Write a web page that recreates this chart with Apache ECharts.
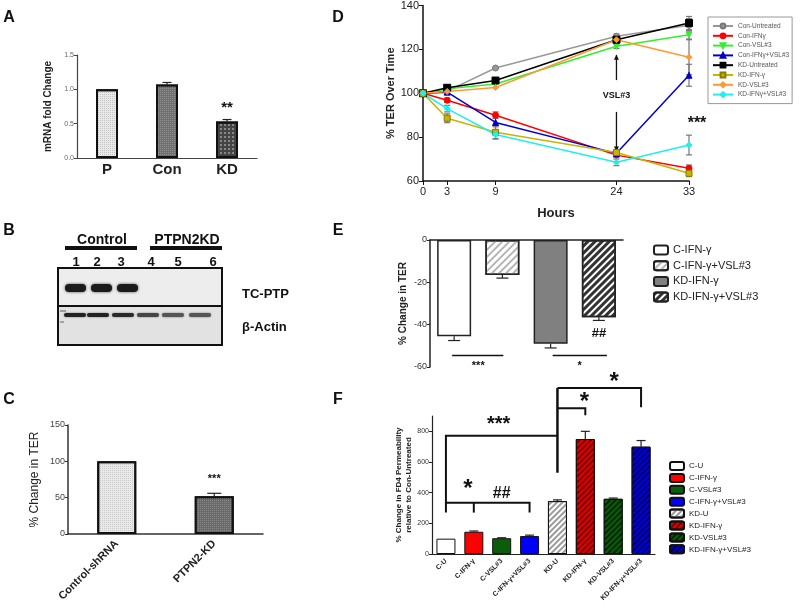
<!DOCTYPE html>
<html><head><meta charset="utf-8">
<script src="https://cdn.jsdelivr.net/npm/echarts@6/dist/echarts.min.js"></script>
<style>html,body{margin:0;padding:0;background:#fff}#c{width:800px;height:606px}</style>
</head><body><div id="c"></div>
<script>
// ---------- DATA ----------
// Panel A
const aCats = ['P', 'Con', 'KD'];
const aVals = [1.0, 1.07, 0.53];
const aErr = [0, 0.03, 0.03];
// Panel C
const cCats = ['Control-shRNA', 'PTPN2-KD'];
const cVals = [100, 52];
const cErr = [0, 4];
// Panel D
const dHours = [0, 3, 9, 24, 33];
const dNames = ['Con-Untreated', 'Con-IFNγ', 'Con-VSL#3', 'Con-IFNγ+VSL#3', 'KD-Untreated', 'KD-IFN-γ', 'KD-VSL#3', 'KD-IFNγ+VSL#3'];
const dConUnt = [100, 101, 111.5, 126, 131];
const dConIFN = [100, 96.8, 90, 71.8, 65.8];
const dConVSL = [100, 102, 104.2, 121.4, 126.7];
const dConIFNVSL = [100, 100.5, 86.7, 72.6, 108.2];
const dKDUnt = [100, 102.5, 105.8, 124.4, 132];
const dKDIFN = [100, 88.6, 82.2, 73, 63.5];
const dKDVSL = [100, 100.8, 102.6, 124.4, 116.4];
const dKDIFNVSL = [100, 93, 81.2, 68.5, 76.4];
const dErrConUnt = [0, 0, 0, 1, 3];
const dErrConIFN = [0, 1, 1.5, 1, 1.5];
const dErrConVSL = [0, 0, 0, 1, 2];
const dErrConIFNVSL = [0, 1, 2, 1, 5];
const dErrKDUnt = [0, 1, 1, 1.5, 3];
const dErrKDIFN = [0, 2, 3, 1, 1.5];
const dErrKDVSL = [0, 0, 0, 1, 8];
const dErrKDIFNVSL = [0, 1.5, 2, 1.5, 4.5];
// Panel E
const eNames = ['C-IFN-γ', 'C-IFN-γ+VSL#3', 'KD-IFN-γ', 'KD-IFN-γ+VSL#3'];
const eVals = [-45.5, -16.5, -49, -36.5];
const eErr = [2, 1.5, 2, 1.5];
// Panel F
const fNames = ['C-U', 'C-IFN-γ', 'C-VSL#3', 'C-IFN-γ+VSL#3', 'KD-U', 'KD-IFN-γ', 'KD-VSL#3', 'KD-IFN-γ+VSL#3'];
const fVals = [100, 145, 103, 117, 345, 750, 360, 700];
const fErr = [0, 5, 3, 6, 8, 50, 5, 40];
// tick labels
const aTicks = [0, 0.5, 1.0, 1.5];
const dTicks = [0, 3, 9, 24, 33];
const fTicks = [0, 200, 400, 600, 800];

// ---------- STYLES ----------
const FONT = 'Liberation Sans, Arial, sans-serif';
const hatch = (c, a, b) => ({symbol: 'rect', symbolSize: 1, dashArrayX: [1, 0], dashArrayY: [a, b], rotation: -Math.PI / 4, color: c});
const dots = (c) => ({symbol: 'rect', symbolSize: 1, dashArrayX: [1, 1], dashArrayY: [1, 1], color: c});

const aStyles = [
  {color: '#e9e9e9', decal: dots('rgba(190,190,190,0.9)')},
  {color: '#6f6f6f', decal: dots('rgba(150,150,150,0.9)')},
  {color: '#444', decal: {symbol: 'rect', symbolSize: 1, dashArrayX: [2, 2], dashArrayY: [2, 2], color: '#888'}}
];
const cStyles = [
  {color: '#e9e9e9', decal: dots('rgba(200,200,200,0.9)')},
  {color: '#6a6a6a', decal: dots('rgba(140,140,140,0.9)')}
];
const eStyles = [
  {color: '#fff'},
  {color: '#fff', decal: hatch('#b5b5b5', 2, 3)},
  {color: '#808080'},
  {color: '#fff', decal: hatch('#333', 2.5, 2)}
];
const fStyles = [
  {color: '#fff'},
  {color: '#ff0000'},
  {color: '#0b5d0b'},
  {color: '#0000ff'},
  {color: '#fff', decal: hatch('#9a9a9a', 2, 2)},
  {color: '#e00000', decal: hatch('#7a0000', 2, 2)},
  {color: '#0b5d0b', decal: hatch('#002800', 2, 2)},
  {color: '#0000e8', decal: hatch('#000060', 2, 2)}
];
const dColors = ['#999999', '#ff0000', '#33ee33', '#0000cc', '#000000', '#c8b400', '#ff9933', '#22eeee'];
const dSymbols = ['circle', 'circle', 'triangle', 'triangle', 'rect', 'rect', 'diamond', 'diamond'];
const dRot = [0, 0, 180, 0, 0, 0, 0, 0];
const dSeries = [dConUnt, dConIFN, dConVSL, dConIFNVSL, dKDUnt, dKDIFN, dKDVSL, dKDIFNVSL];
const dErrs = [dErrConUnt, dErrConIFN, dErrConVSL, dErrConIFNVSL, dErrKDUnt, dErrKDIFN, dErrKDVSL, dErrKDIFNVSL];

function errSeries(idx, data, cap, color, mode, z) {
  return {
    type: 'custom', xAxisIndex: idx, yAxisIndex: idx, z: z || 1, silent: true,
    data: data,
    renderItem: function (params, api) {
      const x = api.value(0), y = api.value(1), e = api.value(2);
      if (!e) return null;
      let lo = y - e, hi = y + e;
      if (mode === 'out') { if (y >= 0) lo = y; else hi = y; }
      const p1 = api.coord([x, hi]), p0 = api.coord([x, lo]);
      const st = {stroke: color, lineWidth: 1.2};
      const ch = [{type: 'line', shape: {x1: p0[0], y1: p0[1], x2: p1[0], y2: p1[1]}, style: st}];
      if (mode === 'out') {
        const pe = y >= 0 ? p1 : p0;
        ch.push({type: 'line', shape: {x1: pe[0] - cap / 2, y1: pe[1], x2: pe[0] + cap / 2, y2: pe[1]}, style: st});
      } else {
        ch.push({type: 'line', shape: {x1: p1[0] - cap / 2, y1: p1[1], x2: p1[0] + cap / 2, y2: p1[1]}, style: st});
        ch.push({type: 'line', shape: {x1: p0[0] - cap / 2, y1: p0[1], x2: p0[0] + cap / 2, y2: p0[1]}, style: st});
      }
      return {type: 'group', children: ch};
    }
  };
}

const axisLine = (w, c) => ({show: true, onZero: false, lineStyle: {color: c || '#222', width: w || 1.5}});
// unique internal series names per panel (prefix stripped in legends)
const dKey = n => 'D:' + n, eKey = n => 'E:' + n, fKey = n => 'F:' + n;
const strip = n => n.slice(2);

const series = [];
// A
series.push(errSeries(0, aVals.map((v, i) => [i, v, aErr[i]]), 9, '#222', 'out', 1));
series.push({type: 'bar', xAxisIndex: 0, yAxisIndex: 0, barWidth: 22, z: 2,
  data: aVals.map((v, i) => ({value: v, itemStyle: Object.assign({borderColor: '#111', borderWidth: 2}, aStyles[i])}))});
// C
series.push(errSeries(1, cVals.map((v, i) => [i, v, cErr[i]]), 14, '#222', 'out', 1));
series.push({type: 'bar', xAxisIndex: 1, yAxisIndex: 1, barWidth: 39, z: 2,
  data: cVals.map((v, i) => ({value: v, itemStyle: Object.assign({borderColor: '#111', borderWidth: 2}, cStyles[i])}))});
// D
const dErrData = [];
dSeries.forEach((arr, s) => {
  arr.forEach((v, i) => { if (dErrs[s][i]) dErrData.push([dHours[i], v, dErrs[s][i]]); });
});
series.push(errSeries(2, dErrData, 6, '#777', 'both', 1));
dSeries.forEach((arr, s) => {
  series.push({type: 'line', name: dKey(dNames[s]), xAxisIndex: 2, yAxisIndex: 2, z: 3,
    data: arr.map((v, i) => [dHours[i], v]),
    symbol: dSymbols[s], symbolRotate: dRot[s], symbolSize: s === 4 ? 7 : 6,
    lineStyle: {color: dColors[s], width: 1.5},
    itemStyle: {color: dColors[s], borderColor: s === 5 ? '#8a7a00' : (s === 0 ? '#777' : dColors[s]), borderWidth: 1},
    emphasis: {disabled: true}
  });
});
// E
series.push(errSeries(3, eVals.map((v, i) => [i, v, eErr[i]]), 12, '#222', 'out', 1));
eNames.forEach((n, s) => {
  series.push({type: 'bar', name: eKey(n), stack: 'e', xAxisIndex: 3, yAxisIndex: 3, barWidth: 34, z: 2,
    data: eVals.map((v, i) => i === s ? v : '-'),
    itemStyle: Object.assign({borderColor: '#222', borderWidth: 1.5}, eStyles[s])});
});
// F
series.push(errSeries(4, fVals.map((v, i) => [i, v, fErr[i]]), 9, '#222', 'out', 1));
fNames.forEach((n, s) => {
  series.push({type: 'bar', name: fKey(n), stack: 'f', xAxisIndex: 4, yAxisIndex: 4, barWidth: 19, z: 2,
    data: fVals.map((v, i) => i === s ? v : '-'),
    itemStyle: Object.assign({borderColor: '#111', borderWidth: 1}, fStyles[s])});
});

const option = {
  animation: false,
  textStyle: {fontFamily: FONT},
  grid: [
    {left: 77, top: 55, width: 180, height: 103},
    {left: 68, top: 425, width: 195, height: 109},
    {left: 423, top: 5, width: 266, height: 176},
    {left: 430, top: 240, width: 193, height: 127},
    {left: 432, top: 416, width: 223, height: 138}
  ],
  xAxis: [
    {type: 'category', gridIndex: 0, data: aCats, axisLine: axisLine(1.2, '#444'), axisTick: {show: false},
      axisLabel: {fontSize: 15, fontWeight: 'bold', color: '#222', margin: 4}},
    {type: 'category', gridIndex: 1, data: cCats, axisLine: axisLine(1.5, '#333'), axisTick: {show: false},
      axisLabel: {fontSize: 11, fontWeight: 'bold', color: '#222', rotate: 45, margin: 8, interval: 0}},
    {type: 'value', gridIndex: 2, min: 0, max: 33, axisLine: axisLine(1.5, '#111'), splitLine: {show: false},
      axisTick: {show: true, length: 4, customValues: dTicks, lineStyle: {color: '#111'}},
      axisLabel: {fontSize: 11, color: '#222', customValues: dTicks, margin: 5},
      name: 'Hours', nameLocation: 'middle', nameGap: 26, nameTextStyle: {fontSize: 13, fontWeight: 'bold', color: '#222'}},
    {type: 'category', gridIndex: 3, data: eNames, axisLine: {show: true, onZero: true, lineStyle: {color: '#222', width: 1.5}},
      axisTick: {show: false}, axisLabel: {show: false}},
    {type: 'category', gridIndex: 4, data: fNames, axisLine: axisLine(1.2, '#222'), axisTick: {show: false},
      axisLabel: {fontSize: 7, fontWeight: 'bold', color: '#222', rotate: 45, margin: 6, interval: 0}}
  ],
  yAxis: [
    {type: 'value', gridIndex: 0, min: 0, max: 1.5, interval: 0.5, splitLine: {show: false}, axisLine: axisLine(1.2, '#444'),
      axisTick: {show: true, length: 3}, axisLabel: {fontSize: 7, color: '#666', margin: 3, formatter: v => v.toFixed(1)},
      name: 'mRNA fold Change', nameLocation: 'middle', nameGap: 24, nameTextStyle: {fontSize: 10, fontWeight: 'bold', color: '#222'}},
    {type: 'value', gridIndex: 1, min: 0, max: 150, interval: 50, splitLine: {show: false}, axisLine: axisLine(1.5, '#333'),
      axisTick: {show: true, length: 3}, axisLabel: {fontSize: 9, color: '#444', margin: 3},
      name: '% Change in TER', nameLocation: 'middle', nameGap: 27, nameTextStyle: {fontSize: 12, color: '#222'}},
    {type: 'value', gridIndex: 2, min: 60, max: 140, interval: 20, splitLine: {show: false}, axisLine: axisLine(1.5, '#111'),
      axisTick: {show: true, length: 4}, axisLabel: {fontSize: 11, color: '#222', margin: 4},
      name: '% TER Over Time', nameLocation: 'middle', nameGap: 27, nameTextStyle: {fontSize: 11, fontWeight: 'bold', color: '#222'}},
    {type: 'value', gridIndex: 3, min: -60, max: 0, interval: 20, splitLine: {show: false}, axisLine: axisLine(1.5, '#222'),
      axisTick: {show: true, length: 3}, axisLabel: {fontSize: 9, color: '#333', margin: 3},
      name: '% Change in TER', nameLocation: 'middle', nameGap: 22, nameTextStyle: {fontSize: 10, fontWeight: 'bold', color: '#222'}},
    {type: 'value', gridIndex: 4, min: 0, max: 900, splitLine: {show: false}, axisLine: axisLine(1.2, '#222'),
      axisTick: {show: true, length: 3, customValues: fTicks}, axisLabel: {fontSize: 7, color: '#333', margin: 3, customValues: fTicks},
      name: '% Change in FD4 Permeability\nrelative to Con-Untreated', nameLocation: 'middle', nameGap: 17,
      nameTextStyle: {fontSize: 8, fontWeight: 'bold', color: '#222', lineHeight: 10}}
  ],
  legend: [
    {data: dNames.map(dKey), formatter: strip, orient: 'vertical', left: 708, top: 17, padding: [5, 3, 5, 4], itemGap: 1.8,
      itemWidth: 20, itemHeight: 6, borderColor: '#999', borderWidth: 1, selectedMode: false,
      textStyle: {fontSize: 6.5, color: '#555', lineHeight: 8}},
    {data: eNames.map(eKey), formatter: strip, orient: 'vertical', left: 648, top: 239, itemGap: 3.7, itemWidth: 14, itemHeight: 9, selectedMode: false,
      textStyle: {fontSize: 11, color: '#222', lineHeight: 12}},
    {data: fNames.map(fKey), formatter: strip, orient: 'vertical', left: 664, top: 456, itemGap: 1.9, itemWidth: 14, itemHeight: 8, selectedMode: false,
      textStyle: {fontSize: 8, color: '#222', lineHeight: 9.8}}
  ],
  series: series
};

const chart = echarts.init(document.getElementById('c'));
chart.setOption(option);

// ---------- ANNOTATIONS ----------
function px(g, x, y) { return chart.convertToPixel({xAxisIndex: g, yAxisIndex: g}, [x, y]); }
const G = [];
const T = (x, y, text, size, weight, extra) => G.push({type: 'text', x: x, y: y, style: Object.assign({text: text, fontSize: size, fontWeight: weight || 'bold', fontFamily: FONT, fill: '#111', align: 'center', verticalAlign: 'middle'}, extra || {})});
const L = (x1, y1, x2, y2, w, c) => G.push({type: 'line', shape: {x1: x1, y1: y1, x2: x2, y2: y2}, style: {stroke: c || '#111', lineWidth: w || 1.5}});
const poly = (pts, w) => G.push({type: 'polyline', shape: {points: pts}, style: {stroke: '#111', lineWidth: w || 2, fill: null}});

// panel letters
T(9, 18, 'A', 16); T(9, 231, 'B', 16); T(9, 400, 'C', 16);
T(338, 18, 'D', 16); T(338, 231, 'E', 16); T(338, 400, 'F', 16);

// Panel A stars
let p = px(0, 2, aVals[2] + aErr[2]);
T(p[0], p[1] - 12, '**', 15);
// Panel C stars
p = px(1, 1, cVals[1] + cErr[1]);
T(p[0], p[1] - 14, '***', 11);

// Panel B (western blot)
T(102, 240, 'Control', 14); T(187, 240, 'PTPN2KD', 14);
G.push({type: 'rect', shape: {x: 65, y: 246, width: 72, height: 4}, style: {fill: '#111'}});
G.push({type: 'rect', shape: {x: 150, y: 246, width: 72, height: 4}, style: {fill: '#111'}});
const laneNum = [76, 97, 121, 151, 178, 213];
laneNum.forEach((x, i) => T(x, 262, String(i + 1), 13));
G.push({type: 'rect', shape: {x: 58, y: 268, width: 164, height: 38}, style: {fill: '#ededed', stroke: '#111', lineWidth: 2}});
G.push({type: 'rect', shape: {x: 58, y: 306, width: 164, height: 39}, style: {fill: '#e2e2e2', stroke: '#111', lineWidth: 2}});
[75, 101, 127].forEach(x => G.push({type: 'rect', shape: {x: x - 10, y: 284, width: 21, height: 8, r: 4},
  style: {fill: '#1a1a1a', shadowBlur: 3, shadowColor: 'rgba(0,0,0,0.7)'}}));
const actin = [[75, '#222'], [98, '#222'], [123, '#2a2a2a'], [148, '#444'], [173, '#555'], [200, '#555']];
actin.forEach(a => G.push({type: 'rect', shape: {x: a[0] - 11, y: 313, width: 22, height: 4, r: 2},
  style: {fill: a[1], shadowBlur: 2, shadowColor: 'rgba(0,0,0,0.5)'}}));
L(60, 311, 66, 311, 1, '#555'); L(60, 322, 64, 322, 1, '#666');
T(242, 294, 'TC-PTP', 13, 'bold', {align: 'left'});
T(242, 327, 'β-Actin', 13, 'bold', {align: 'left'});

// Panel D annotations
let a1 = px(2, 24, 106), a2 = px(2, 24, 117.5);
L(a1[0], a1[1], a2[0], a2[1], 1.3);
G.push({type: 'polygon', shape: {points: [[a2[0] - 2.5, a2[1] + 5], [a2[0] + 2.5, a2[1] + 5], [a2[0], a2[1]]]}, style: {fill: '#111'}});
let b1 = px(2, 24, 91.5), b2 = px(2, 24, 73.5);
L(b1[0], b1[1], b2[0], b2[1] - 3, 1.3);
G.push({type: 'polygon', shape: {points: [[b2[0] - 2.5, b2[1] - 5], [b2[0] + 2.5, b2[1] - 5], [b2[0], b2[1]]]}, style: {fill: '#111'}});
p = px(2, 24, 99); T(p[0], p[1], 'VSL#3', 9);
p = px(2, 33, 86.5); T(p[0] + 8, p[1] + 1, '***', 16);

// Panel E annotations
let e0 = px(3, 0, -54.6), e1 = px(3, 1, -54.6);
L(e0[0] - 2, e0[1], e1[0] + 1, e1[1], 1.5);
T((e0[0] + e1[0]) / 2, e0[1] + 10, '***', 11);
let e2 = px(3, 2, -54.6), e3 = px(3, 3, -54.6);
L(e2[0] + 2, e2[1], e3[0] + 8, e3[1], 1.5);
T((e2[0] + e3[0]) / 2 + 5, e2[1] + 10, '*', 11);
p = px(3, 3, -44.2); T(p[0], p[1], '##', 13);

// Panel F brackets
const q = (c, v) => px(4, c, v);
let l0 = q(0, 334), l3 = q(3, 334);
poly([q(0, 270), l0, l3, q(3, 270)], 2);
L(q(1, 334)[0], l0[1], q(1, 270)[0], q(1, 270)[1], 2);
p = q(1, 334); T(p[0] - 6, p[1] - 13, '*', 24);
p = q(2, 334); T(p[0], p[1] - 9, '##', 16);
poly([q(0, 334), q(0, 772), q(4, 772)], 2);
L(q(4, 1082)[0], q(4, 1082)[1], q(4, 530)[0], q(4, 530)[1], 2.5);
p = q(2, 772); T(p[0] - 3, p[1] - 11, '***', 20);
poly([q(4, 951), q(5, 951), q(5, 905)], 2);
p = q(4.5, 951); T(p[0] - 1, p[1] - 6, '*', 24);
poly([q(4, 1082), q(7, 1082), q(7, 957)], 2);
p = q(5.5, 1082); T(p[0] + 1, p[1] - 6, '*', 24);

chart.setOption({graphic: {elements: G}});
</script>
</body></html>
